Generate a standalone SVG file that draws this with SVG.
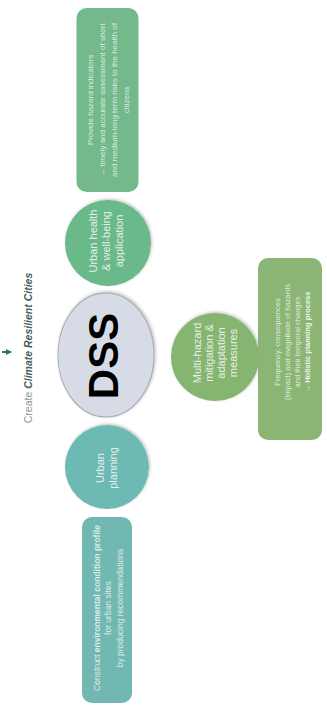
<svg xmlns="http://www.w3.org/2000/svg" width="327" height="709" viewBox="0 0 327 709">
<style>
.t{font-family:"Liberation Sans",Arial,sans-serif;fill:#eef6ef;text-anchor:middle}
.s{font-size:8px;fill-opacity:0.85}
.c{font-size:11px;fill-opacity:0.95}
.b{font-weight:bold}
</style>
<defs>
<filter id="sh" x="-20%" y="-20%" width="140%" height="140%">
<feDropShadow dx="1" dy="1" stdDeviation="1.5" flood-color="#000" flood-opacity="0.25"/>
</filter>
<marker id="ah" markerWidth="6" markerHeight="6" refX="5" refY="3" orient="auto" markerUnits="userSpaceOnUse">
<path d="M0,0 L6,3 L0,6 Z" fill="#2f6f72"/>
</marker>
</defs>
<rect width="327" height="709" fill="#ffffff"/>
<g id="connectors">
<line x1="2" y1="352" x2="11" y2="352" stroke="#2f6f72" stroke-width="2" marker-end="url(#ah)"/>
</g>
<g id="title" transform="translate(32,348) rotate(-90)">
<text class="t" x="0" y="0" style="font-size:10.5px"><tspan fill="#8a9699">Create </tspan><tspan font-weight="bold" font-style="italic" fill="#425d62">Climate Resilient Cities</tspan></text>
</g>
<g id="hazard-indicators" transform="translate(107.5,100) rotate(-90)">
<rect x="-92" y="-31" width="184" height="62" rx="10" fill="#74b98c"/>
<text class="t s" x="0" y="-15">Provide hazard indicators</text>
<text class="t s" x="0" y="-3">→ timely and accurate assessment of short</text>
<text class="t s" x="0" y="9">and medium-long term risks to the health of</text>
<text class="t s" x="0" y="21">citizens</text>
</g>
<g id="urban-health" transform="translate(108,243) rotate(-90)">
<circle cx="0" cy="0" r="43" fill="#6bb98a" filter="url(#sh)"/>
<text class="t c" x="2" y="-11">Urban health</text>
<text class="t c" x="2" y="2">&amp; well-being</text>
<text class="t c" x="2" y="15">application</text>
</g>
<g id="dss" transform="translate(106,355) rotate(-90)">
<ellipse cx="0" cy="0" rx="62" ry="48" fill="#d7dbe5" stroke="#a9adb5" stroke-width="1.2" filter="url(#sh)"/>
<text x="-1" y="12" style="font-family:'Liberation Sans',Arial,sans-serif;font-weight:bold;font-size:42px;fill:#000;text-anchor:middle">DSS</text>
</g>
<g id="multi-hazard" transform="translate(215,357) rotate(-90)">
<circle cx="0" cy="0" r="44" fill="#86b571" filter="url(#sh)"/>
<text class="t c" x="4" y="-14">Multi-hazard</text>
<text class="t c" x="4" y="-2">mitigation &amp;</text>
<text class="t c" x="4" y="10">adaptation</text>
<text class="t c" x="4" y="22">measures</text>
</g>
<g id="frequency" transform="translate(290,349) rotate(-90)">
<rect x="-91" y="-32" width="182" height="64" rx="10" fill="#8ab574"/>
<text class="t s" x="7" y="-10" style="font-size:7.5px">Frequency, consequences</text>
<text class="t s" x="7" y="0" style="font-size:7.5px">(impact) and magnitude of hazards</text>
<text class="t s" x="7" y="10" style="font-size:7.5px">and their temporal changes</text>
<text class="t b" x="7" y="20" style="font-size:7.5px">→ Holistic planning process</text>
</g>
<g id="urban-planning" transform="translate(107,467) rotate(-90)">
<circle cx="0" cy="0" r="42" fill="#6cbab3" filter="url(#sh)"/>
<text class="t c" x="-1" y="-3">Urban</text>
<text class="t c" x="-1" y="10">planning</text>
</g>
<g id="environmental-profile" transform="translate(107,610) rotate(-90)">
<rect x="-93" y="-25" width="186" height="50" rx="10" fill="#72b8b2"/>
<text class="t s" x="2" y="-7" style="font-size:8.5px">Construct <tspan font-weight="bold">environmental condition profile</tspan></text>
<text class="t s" x="2" y="4" style="font-size:8.5px">for urban sites</text>
<text class="t s" x="2" y="16" style="font-size:8.5px">by producing recommendations</text>
</g>
</svg>
